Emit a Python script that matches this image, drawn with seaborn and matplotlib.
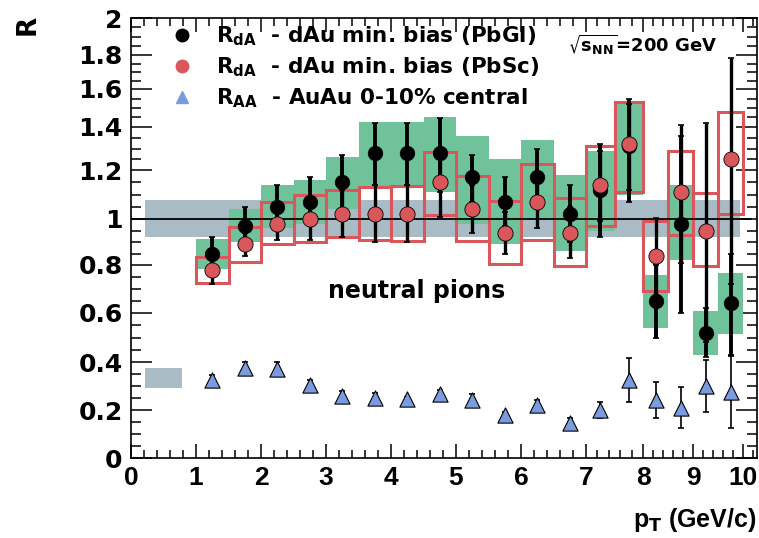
import numpy as np
import pandas as pd
import matplotlib
matplotlib.use("Agg")
import matplotlib.pyplot as plt
import seaborn as sns
from matplotlib.lines import Line2D
from matplotlib.ticker import FixedLocator, NullFormatter

# ---------------- data ----------------
pt = [1.25, 1.75, 2.25, 2.75, 3.25, 3.75, 4.25, 4.75, 5.25, 5.75,
      6.25, 6.75, 7.25, 7.75, 8.25, 8.75, 9.25, 9.75]
pbgl = [0.85, 0.97, 1.05, 1.07, 1.15, 1.28, 1.28, 1.28, 1.17, 1.07,
        1.17, 1.02, 1.12, 1.31, 0.65, 0.98, 0.52, 0.64]
pbgl_stat = [0.07, 0.08, 0.09, 0.10, 0.12, 0.14, 0.14, 0.17, 0.10, 0.10,
             0.13, 0.12, 0.20, 0.24, 0.15, 0.38, 0.10, 0.21]
pbgl_sys = [0.065, 0.07, 0.09, 0.09, 0.11, 0.145, 0.145, 0.17, 0.19, 0.18,
            0.17, 0.16, 0.17, 0.21, 0.11, 0.16, 0.09, 0.125]
pbsc = [0.78, 0.89, 0.98, 1.00, 1.02, 1.02, 1.02, 1.15, 1.04, 0.94,
        1.07, 0.94, 1.14, 1.32, 0.84, 1.11, 0.95, 1.25]
pbsc_stat = [0.06, 0.05, 0.07, 0.09, 0.10, 0.12, 0.12, 0.14, 0.10, 0.09,
             0.11, 0.11, 0.15, 0.20, 0.165, 0.30, 0.47, 0.53]
pbsc_sys = [0.055, 0.077, 0.09, 0.10, 0.10, 0.11, 0.115, 0.135, 0.135, 0.135,
            0.16, 0.145, 0.17, 0.21, 0.15, 0.18, 0.155, 0.23]
raa = [0.325, 0.375, 0.37, 0.305, 0.26, 0.25, 0.245, 0.265, 0.24, 0.18,
       0.22, 0.145, 0.20, 0.325, 0.24, 0.21, 0.30, 0.275]
raa_err = [0.02, 0.025, 0.03, 0.02, 0.02, 0.02, 0.01, 0.02, 0.025, 0.01,
           0.02, 0.02, 0.035, 0.09, 0.075, 0.085, 0.11, 0.15]
bin_width = 0.5
dau_norm = [0.922, 1.078]          # dAu normalisation band
auau_norm = [0.29, 0.375]          # AuAu normalisation box
x_ticks = [0, 1, 2, 3, 4, 5, 6, 7, 8, 9, 10]
y_ticks = [0, 0.2, 0.4, 0.6, 0.8, 1, 1.2, 1.4, 1.6, 1.8, 2]
y_ticklabels = ["0", "0.2", "0.4", "0.6", "0.8", "1", "1.2", "1.4", "1.6", "1.8", "2"]
labels = [r"R$_{dA}$  - dAu min. bias (PbGl)",
          r"R$_{dA}$  - dAu min. bias (PbSc)",
          r"R$_{AA}$  - AuAu 0-10% central"]

df = pd.DataFrame(dict(pt=pt, pbgl=pbgl, pbsc=pbsc, raa=raa))

# ---------------- style ----------------
sns.set_style("ticks")
plt.rcParams["font.family"] = ["DejaVu Sans"]
plt.rcParams["font.weight"] = "bold"
plt.rcParams["mathtext.default"] = "bf"
plt.rcParams["axes.linewidth"] = 1.2
for k in ["text.color", "axes.labelcolor", "xtick.color", "ytick.color",
          "axes.edgecolor"]:
    plt.rcParams[k] = "black"

GREEN = "#70c29b"
RED = "#d9575b"
BLUE = "#7b9be0"
GREY = "#a9bcc5"

# piecewise-linear axis scales reproducing the picture's geometry
XB = np.array([-20, 0, 7, 8, 30.0])
XP = np.array([-1300, 0, 455, 512, 512 + 22 * 50.0])
YB = np.array([-10, 0, 0.2, 0.4, 0.6, 0.8, 1.0, 1.2, 1.4, 1.6, 1.8, 2.0, 10])
YP = np.array([-2400, 0, 48, 96, 145, 193, 239, 288, 331, 369, 403, 440, 440 + 8 * 185.0])

def fx(v): return np.interp(v, XB, XP)
def ix(v): return np.interp(v, XP, XB)
def fy(v): return np.interp(v, YB, YP)
def iy(v): return np.interp(v, YP, YB)

fig = plt.figure(figsize=(7.59, 5.38), dpi=100)
W, H = 759, 538
ax = fig.add_axes([131 / W, (H - 458) / H, (757 - 131) / W, (458 - 18) / H])
ax.set_xscale("function", functions=(fx, ix))
ax.set_yscale("function", functions=(fy, iy))
ax.set_xlim(0, 10.28)
ax.set_ylim(0, 2)

# normalisation band & box
ax.fill_between([0.22, 9.94], dau_norm[0], dau_norm[1], color=GREY, lw=0, zorder=1)
ax.fill_between([0.22, 0.78], auau_norm[0], auau_norm[1], color=GREY, lw=0, zorder=1)

# systematic boxes
ptv = np.array(pt)
ax.bar(ptv, 2 * np.array(pbgl_sys), bottom=np.array(pbgl) - np.array(pbgl_sys),
       width=bin_width, color=GREEN, lw=0, zorder=2)
ax.bar(ptv, 2 * np.array(pbsc_sys), bottom=np.array(pbsc) - np.array(pbsc_sys),
       width=bin_width, fill=False, edgecolor=RED, lw=2.2, zorder=3)

ax.axhline(1.0, xmin=0, xmax=fx(10.15) / fx(10.28), color="black", lw=1.3, zorder=4)

# statistical error bars
ax.errorbar(pt, pbgl, yerr=pbgl_stat, fmt="none", ecolor="black", elinewidth=2.8,
            capsize=2, capthick=1.2, zorder=5)
ax.errorbar(pt, pbsc, yerr=pbsc_stat, fmt="none", ecolor="black", elinewidth=2.4,
            capsize=2, capthick=1.2, zorder=5)
ax.errorbar(pt, raa, yerr=raa_err, fmt="none", ecolor="black", elinewidth=1.2,
            capsize=2.5, capthick=1.2, zorder=5)

# points
sns.scatterplot(data=df, x="pt", y="pbgl", ax=ax, color="black", marker="o",
                s=110, edgecolor="black", linewidth=0.5, zorder=6, legend=False)
sns.scatterplot(data=df, x="pt", y="pbsc", ax=ax, color=RED, marker="o",
                s=120, edgecolor="black", linewidth=0.6, zorder=7, legend=False)
sns.scatterplot(data=df, x="pt", y="raa", ax=ax, color=BLUE, marker="^",
                s=120, edgecolor="black", linewidth=0.8, zorder=7, legend=False)

# ticks
ax.xaxis.set_major_locator(FixedLocator(x_ticks))
ax.xaxis.set_minor_locator(FixedLocator([v for v in np.arange(0, 10.3, 0.2)
                                         if abs(v - round(v)) > 1e-6]))
ax.yaxis.set_major_locator(FixedLocator(y_ticks))
ax.yaxis.set_minor_locator(FixedLocator([v for v in np.arange(0, 2.0001, 0.05)]))
ax.set_xticks(x_ticks, [str(v) for v in x_ticks], fontfamily="Liberation Sans",
              fontweight="bold", fontsize=19, color="black")
ax.set_yticks(y_ticks, y_ticklabels, fontfamily="DejaVu Sans",
              fontweight="bold", fontsize=18, color="black")
ax.yaxis.set_minor_formatter(NullFormatter())
ax.xaxis.set_minor_formatter(NullFormatter())
ax.tick_params(axis="x", which="major", direction="in", length=10, width=1.1,
               top=True, pad=6, color="black")
ax.tick_params(axis="x", which="minor", direction="in", length=6, width=1.1,
               top=True, color="black")
ax.tick_params(axis="y", which="major", direction="in", length=15, width=1.1,
               right=True, pad=6, color="black")
ax.tick_params(axis="y", which="minor", direction="in", length=7, width=1.1,
               right=True, color="black")
ax.set_xlabel("")
ax.set_ylabel("")
for s in ax.spines.values():
    s.set_linewidth(1.2)
    s.set_color("black")

# legend
handles = [Line2D([], [], ls="none", marker="o", ms=9, mfc="black", mec="black"),
           Line2D([], [], ls="none", marker="o", ms=9, mfc=RED, mec=RED),
           Line2D([], [], ls="none", marker="^", ms=9, mfc=BLUE, mec=BLUE)]
ax.legend(handles, labels, loc="upper left", bbox_to_anchor=(0.064, 0.985),
          frameon=False, fontsize=15.5, handlelength=1.0, handletextpad=1.1,
          labelspacing=0.35, borderaxespad=0, borderpad=0, labelcolor="black")

# texts
fig.text(568 / W, 1 - 45 / H, r"$\sqrt{s_{NN}}$=200 GeV", fontsize=13,
         fontweight="bold", va="center", ha="left")
ax.text(4.4, 0.69, "neutral pions", fontsize=17, fontweight="bold",
        ha="center", va="center")
fig.text(28 / W, 1 - 25 / H, "R", fontsize=19, fontweight="bold", rotation=90,
         ha="center", va="center")
fig.text(756 / W, 1 - 520 / H, r"p$_T$ (GeV/c)", fontsize=18, fontweight="bold",
         ha="right", va="center", fontfamily="Liberation Sans")

fig.savefig("out.png", dpi=100)
